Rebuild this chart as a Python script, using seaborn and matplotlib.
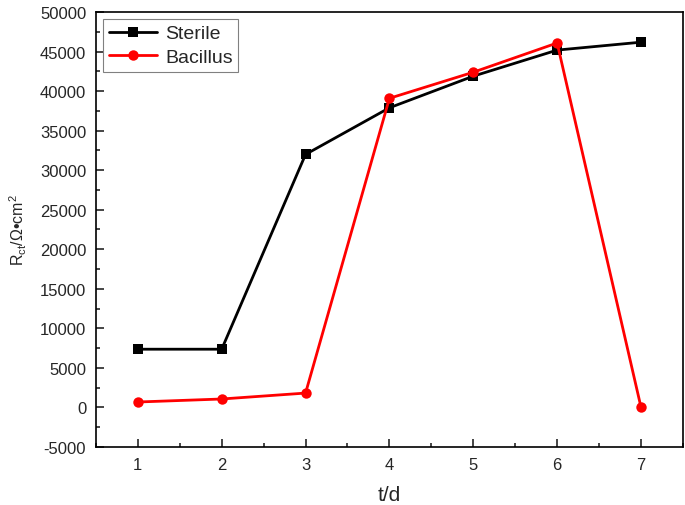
import matplotlib
matplotlib.use("Agg")
import matplotlib.pyplot as plt
from matplotlib.ticker import MultipleLocator
import pandas as pd
import seaborn as sns

days = [1, 2, 3, 4, 5, 6, 7]
sterile = [7350, 7350, 32000, 37900, 41900, 45200, 46200]
bacillus = [670, 1050, 1800, 39100, 42400, 46100, 0]

sns.set_theme(style="ticks")
plt.rcParams["font.family"] = ["Liberation Sans", "DejaVu Sans"]
plt.rcParams["mathtext.fontset"] = "custom"
plt.rcParams["mathtext.rm"] = "Liberation Sans"
plt.rcParams["mathtext.it"] = "Liberation Sans"
plt.rcParams["axes.unicode_minus"] = False

df = pd.concat([
    pd.DataFrame({"t": days, "R": sterile, "group": "Sterile"}),
    pd.DataFrame({"t": days, "R": bacillus, "group": "Bacillus"}),
])

fig = plt.figure(figsize=(6.85, 5.06), dpi=100)
ax = fig.add_axes([0.140, 0.115, 0.857, 0.859])
sns.lineplot(data=df, x="t", y="R", hue="group", style="group",
             palette={"Sterile": "black", "Bacillus": "#ff0000"},
             markers={"Sterile": "s", "Bacillus": "o"}, dashes=False,
             markersize=7, linewidth=2, markeredgewidth=0, ax=ax)

def fix_markers(lines):
    for ln in lines:
        if ln.get_marker() == "s":
            ln.set_markersize(6.5)
        elif ln.get_marker() == "o":
            ln.set_markersize(7.5)

fix_markers(ax.lines)

ax.set_xlim(0.5, 7.5)
ax.set_ylim(-5000, 50000)
ax.xaxis.set_major_locator(MultipleLocator(1))
ax.xaxis.set_minor_locator(MultipleLocator(0.5))
ax.yaxis.set_major_locator(MultipleLocator(5000))
ax.yaxis.set_minor_locator(MultipleLocator(2500))
ax.tick_params(which="both", direction="in", labelsize=12, width=1.2)
ax.tick_params(which="major", length=6, pad=7)
ax.tick_params(which="minor", length=3)
for s in ax.spines.values():
    s.set_linewidth(1.2)
    s.set_color("black")

ax.set_xlabel("t/d", fontsize=15, labelpad=10)
ax.set_ylabel(r"R$_{\mathrm{ct}}$/Ω•cm$^{2}$", fontsize=11.5, labelpad=8)

leg = ax.legend(loc="upper left", fontsize=14, fancybox=False,
                edgecolor="gray", framealpha=1, handlelength=2.5,
                borderaxespad=0.35, labelspacing=0.3, borderpad=0.3,
                handletextpad=0.4)
leg.get_frame().set_linewidth(0.8)
fix_markers(leg.get_lines())

fig.savefig("out.png", dpi=100)
